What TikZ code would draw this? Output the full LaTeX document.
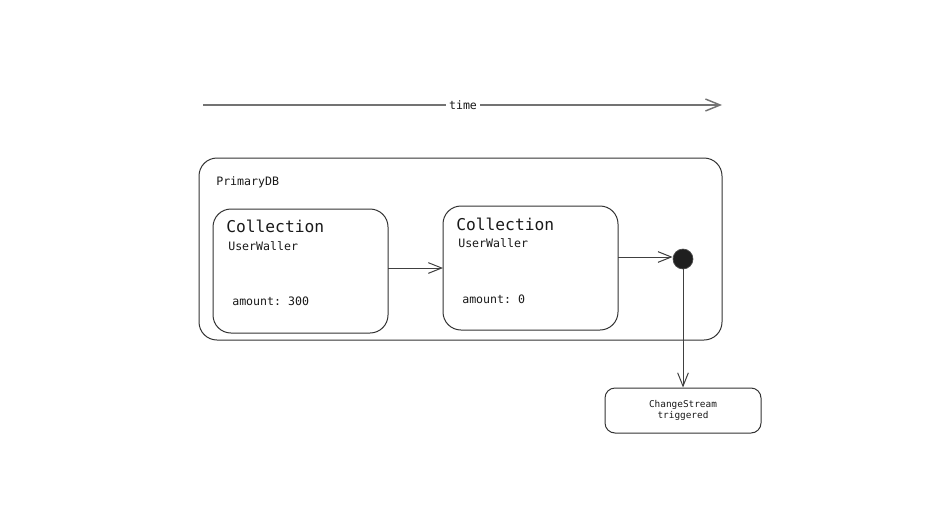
\documentclass[tikz,border=0pt]{standalone}
\usepackage{fontspec}
\setmonofont{DejaVu Sans Mono}
\usetikzlibrary{arrows.meta}
\begin{document}
\begin{tikzpicture}[x=0.75pt,y=-0.75pt,
  box/.style={draw=black!80,line width=0.75pt},
  lbl/.style={font=\ttfamily\fontsize{8.7}{10}\selectfont,text=black!90,inner sep=0pt,anchor=west},
  big/.style={font=\ttfamily\fontsize{12.2}{14}\selectfont,text=black!90,inner sep=0pt,anchor=west},
  conn/.style={draw=black!75,line width=0.75pt,-{Straight Barb[length=10pt,width=8pt,line width=0.75pt]}},
]
\useasboundingbox (0,0) rectangle (934,518);
% time arrow
\coordinate (t0) at (203,105);
\coordinate (t1) at (722,105);
\draw[draw=black!55,line width=1.4pt,-{Straight Barb[length=11pt,width=9pt,line width=1.1pt]}] (t0) -- (t1);
\node[fill=white,inner sep=2pt,font=\ttfamily\fontsize{8.7}{10}\selectfont,text=black!90] (time) at (463,105.5) {time};
% PrimaryDB
\draw[box,rounded corners=13.5pt] (199,158) rectangle (722,340);
\node[lbl] (pdb) at (216,182) {PrimaryDB};
% Collection 1
\draw[box,rounded corners=13.5pt] (213,209) rectangle (388,333);
\coordinate (c1e) at (388,268);
\node[big] (c1t) at (226,226) {Collection};
\node[lbl] (c1u) at (228,246) {UserWaller};
\node[lbl] (c1a) at (232,301) {amount: 300};
% Collection 2
\draw[box,rounded corners=13.5pt] (443,206) rectangle (618,330);
\coordinate (c2w) at (443,268);
\coordinate (c2e) at (618,257);
\node[big] (c2t) at (456,224) {Collection};
\node[lbl] (c2u) at (458,243) {UserWaller};
\node[lbl] (c2a) at (462,299) {amount: 0};
% dot
\node[circle,fill=black!88,draw=black!70,line width=0.5pt,minimum size=15pt,inner sep=0pt] (dot) at (683,259) {};
% change stream
\node[box,rounded corners=7.5pt,minimum width=117pt,minimum height=33.75pt,align=center,
  font=\ttfamily\fontsize{7.05}{8.2}\selectfont,text=black!90] (cs) at (683,410.5) {ChangeStream\\triggered};
% connectors
\draw[conn] (c1e) -- (c2w);
\draw[conn] (c2e) -- (dot.west |- c2e);
\draw[conn] (dot.south) -- (cs.north);
\end{tikzpicture}
\end{document}
